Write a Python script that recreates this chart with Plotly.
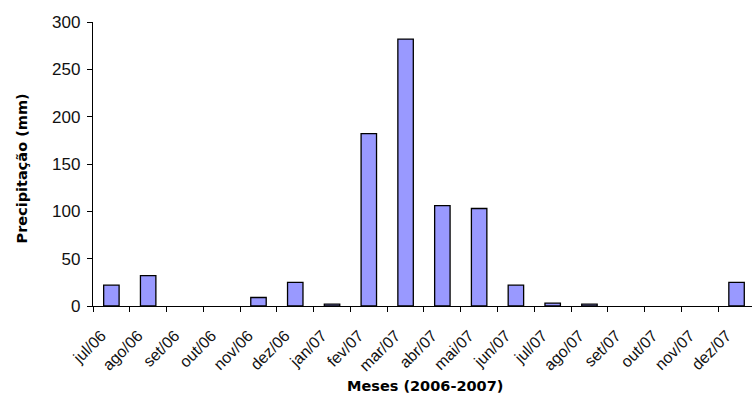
import plotly.graph_objects as go

# Monthly rainfall, Jul 2006 - Dec 2007
meses = ["jul/06", "ago/06", "set/06", "out/06", "nov/06", "dez/06",
         "jan/07", "fev/07", "mar/07", "abr/07", "mai/07", "jun/07",
         "jul/07", "ago/07", "set/07", "out/07", "nov/07", "dez/07"]
precipitacao = [22, 32, 0, 0, 9, 25,
                2, 182, 282, 106, 103, 22,
                3, 2, 0, 0, 0, 25]
y_ticks = [0, 50, 100, 150, 200, 250, 300]

x_title = "Meses (2006-2007)"
y_title = "Precipitação (mm)"

# months without rain get no outlined box
outline_widths = [1.3 if v > 0 else 0 for v in precipitacao]

fig = go.Figure(go.Bar(
    x=meses,
    y=precipitacao,
    width=0.42,
    marker=dict(color="#9999FF", line=dict(color="#000000", width=outline_widths)),
))

y_tick_font = dict(family="Liberation Sans, Arial, sans-serif", size=17, color="#111111")
x_tick_font = dict(family="Liberation Sans, Arial, sans-serif", size=16, color="#111111")
title_font = dict(family="DejaVu Sans, Verdana, sans-serif", size=14.5, color="#000000")

fig.update_layout(
    width=752,
    height=396,
    margin=dict(l=93, r=0, t=22, b=90),
    paper_bgcolor="white",
    plot_bgcolor="white",
    showlegend=False,
    annotations=[
        dict(text=f"<b>{x_title}</b>", xref="paper", yref="paper",
             x=0.504, y=-0.282, xanchor="center", yanchor="middle",
             showarrow=False, font=title_font),
        dict(text=f"<b>{y_title}</b>", xref="paper", yref="paper",
             x=-0.1085, y=0.486, xanchor="center", yanchor="middle",
             textangle=-90, showarrow=False, font=title_font),
    ],
)

fig.update_xaxes(
    type="category",
    range=[-0.5, 17.42],
    showline=True,
    linecolor="#000000",
    linewidth=1.3,
    ticks="outside",
    tickson="boundaries",
    ticklen=5,
    tickcolor="#000000",
    tickwidth=1.3,
    tickangle=-45,
    tickfont=x_tick_font,
    ticklabelstandoff=13,
    ticklabelshift=-10,
    showgrid=False,
    automargin=False,
)

fig.update_yaxes(
    range=[0, 300],
    tickvals=y_ticks,
    showline=True,
    linecolor="#000000",
    linewidth=1.3,
    ticks="outside",
    ticklen=5,
    tickcolor="#000000",
    tickwidth=1.3,
    tickfont=y_tick_font,
    ticklabelstandoff=3,
    showgrid=False,
    zeroline=False,
    automargin=False,
)

fig.write_html("out.html")
